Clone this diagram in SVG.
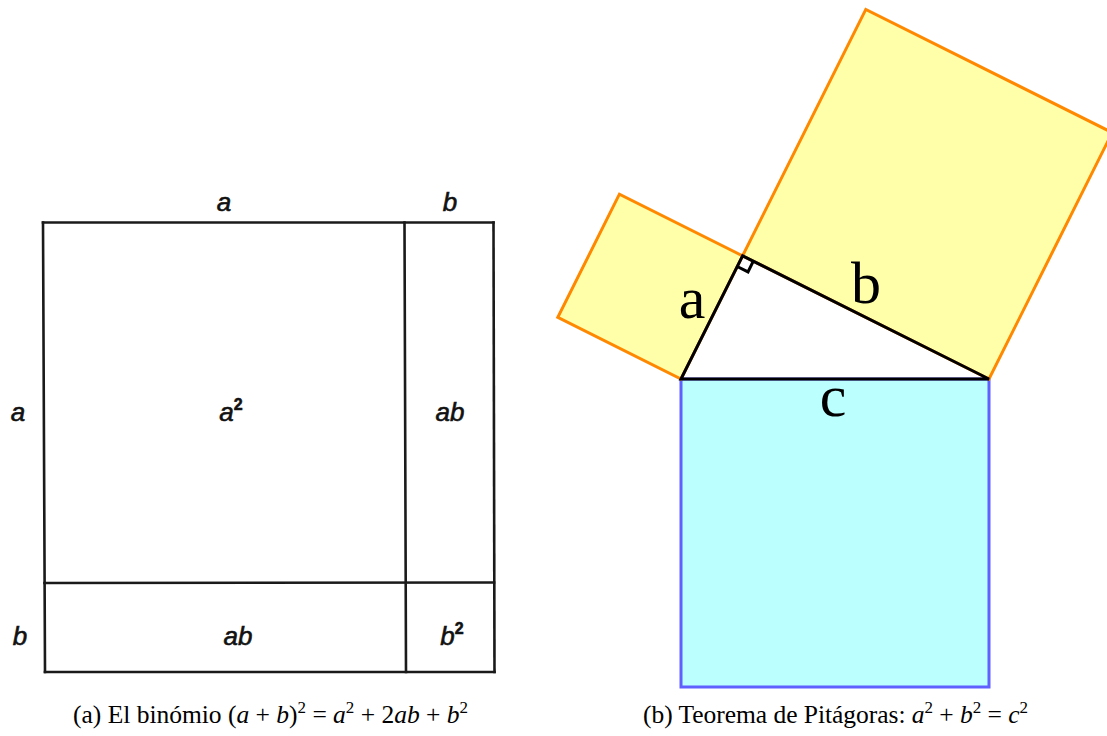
<svg xmlns="http://www.w3.org/2000/svg" width="1107" height="736" viewBox="0 0 1107 736">
<style>
.grid{stroke:#1a1a1a;stroke-width:2.6;fill:none;stroke-linecap:square}
.lab{font-family:"Liberation Sans",Arial,sans-serif;font-style:italic;font-size:26px;fill:#111;stroke:#111;stroke-width:0.6;text-anchor:middle}
.sup{font-style:normal;font-size:16px;font-weight:bold}
.sq{fill:#ffffaa;stroke:#ff8800;stroke-width:3;stroke-linejoin:miter}
.tri{fill:none;stroke:#000;stroke-width:3;stroke-linejoin:miter}
.big{font-family:"Liberation Serif","Times New Roman",serif;font-size:60px;fill:#000;text-anchor:middle}
.cap{font-family:"Liberation Serif","Times New Roman",serif;font-size:25.5px;fill:#000}
.it{font-style:italic}
</style>
<rect width="1107" height="736" fill="#fff"/>
<g id="binomial">
<line class="grid" x1="43" y1="222.5" x2="493.5" y2="222.5"/>
<line class="grid" x1="43" y1="222.5" x2="45" y2="672"/>
<line class="grid" x1="493.5" y1="222.5" x2="494.5" y2="672"/>
<line class="grid" x1="45" y1="672" x2="494.5" y2="672"/>
<line class="grid" x1="404.5" y1="222.5" x2="406" y2="672"/>
<line class="grid" x1="44.5" y1="583" x2="494" y2="582.5"/>
<text class="lab" x="224" y="211">a</text>
<text class="lab" x="450" y="211">b</text>
<text class="lab" x="18" y="421">a</text>
<text class="lab" x="231" y="421">a<tspan class="sup" dy="-11">2</tspan></text>
<text class="lab" x="450" y="421">ab</text>
<text class="lab" x="20" y="645">b</text>
<text class="lab" x="238" y="645">ab</text>
<text class="lab" x="452" y="645">b<tspan class="sup" dy="-11">2</tspan></text>
</g>
<g id="pythagoras">
<polygon id="sq-c" points="681,379 989,379 989,687 681,687" fill="#bbffff" stroke="#6060ff" stroke-width="3"/>
<polygon id="sq-a" class="sq" points="681,379 742.6,255.8 619.4,194.2 557.8,317.4"/>
<polygon id="sq-b" class="sq" points="742.6,255.8 989,379 1112.2,132.6 865.8,9.4"/>
<g id="triangle">
<polygon class="tri" points="681,379 742.6,255.8 989,379"/>
<polyline class="tri" stroke-width="2.2" points="737.2,266.5 748,271.9 753.3,261.2"/>
</g>
<text class="big" x="692" y="318">a</text>
<text class="big" x="866" y="303">b</text>
<text class="big" x="833" y="416">c</text>
</g>
<g id="captions">
<text class="cap" x="73" y="723" textLength="395">(a) El binómio (<tspan class="it">a</tspan> + <tspan class="it">b</tspan>)<tspan font-size="17" dy="-10">2</tspan><tspan dy="10"> = </tspan><tspan class="it">a</tspan><tspan font-size="17" dy="-10">2</tspan><tspan dy="10"> + 2</tspan><tspan class="it">ab</tspan> + <tspan class="it">b</tspan><tspan font-size="17" dy="-10">2</tspan></text>
<text class="cap" x="643" y="723" textLength="385">(b) Teorema de Pitágoras: <tspan class="it">a</tspan><tspan font-size="17" dy="-10">2</tspan><tspan dy="10"> + </tspan><tspan class="it">b</tspan><tspan font-size="17" dy="-10">2</tspan><tspan dy="10"> = </tspan><tspan class="it">c</tspan><tspan font-size="17" dy="-10">2</tspan></text>
</g>
</svg>
